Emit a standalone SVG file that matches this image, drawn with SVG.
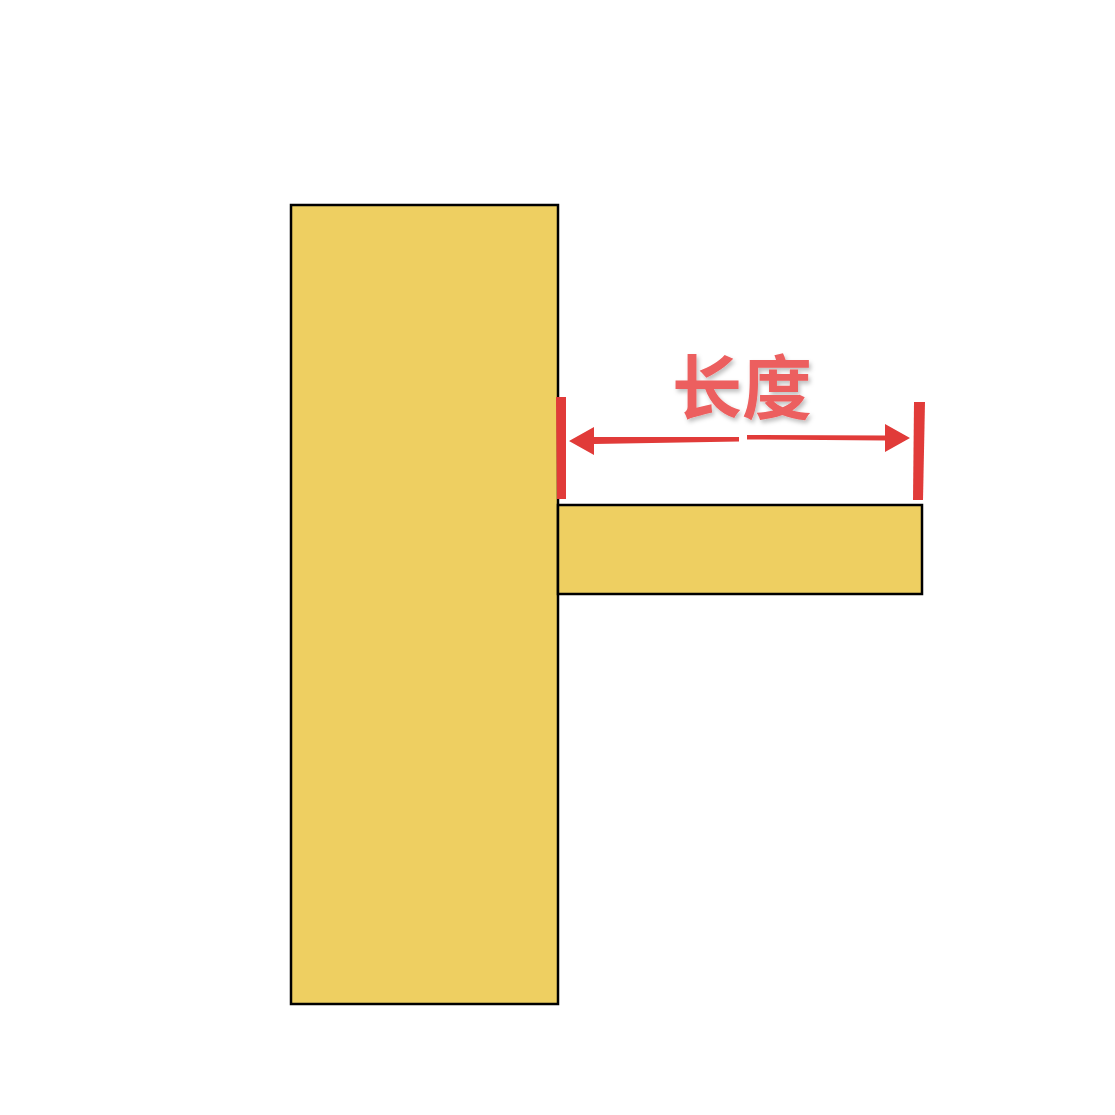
<svg xmlns="http://www.w3.org/2000/svg" width="1115" height="1115" viewBox="0 0 1115 1115">
<defs>
<style>
.beam{fill:#EECF61;stroke:#000;stroke-width:2.5}
.red{fill:#E13B39}
.label{font-family:"Noto Sans CJK SC","Noto Sans",sans-serif;font-weight:bold;font-size:70px;fill:#EC5E5E}
</style>
<filter id="sh" x="-20%" y="-20%" width="140%" height="140%">
<feDropShadow dx="2" dy="3" stdDeviation="2" flood-color="#000" flood-opacity="0.25"/>
</filter>
</defs>
<rect width="1115" height="1115" fill="#fff"/>
<g id="column"><rect class="beam" x="291" y="205" width="267" height="799"/></g>
<g id="beam"><rect class="beam" x="558" y="505" width="364" height="89"/></g>
<g id="connectors">
<polygon class="red" points="556,397 566,397 566,499 557,499"/>
<polygon class="red" points="914,402 925,402 923,500 913,500"/>
<polygon class="red" points="569,441 594,427 594,437 739,437 739,441.5 594,444 594,455"/>
<polygon class="red" points="747,435 885,435.5 885,424 910,438 885,452 885,440.5 747,439.5"/>
</g>
<g id="label"><text class="label" x="742" y="414" text-anchor="middle" filter="url(#sh)">长度</text></g>
</svg>
